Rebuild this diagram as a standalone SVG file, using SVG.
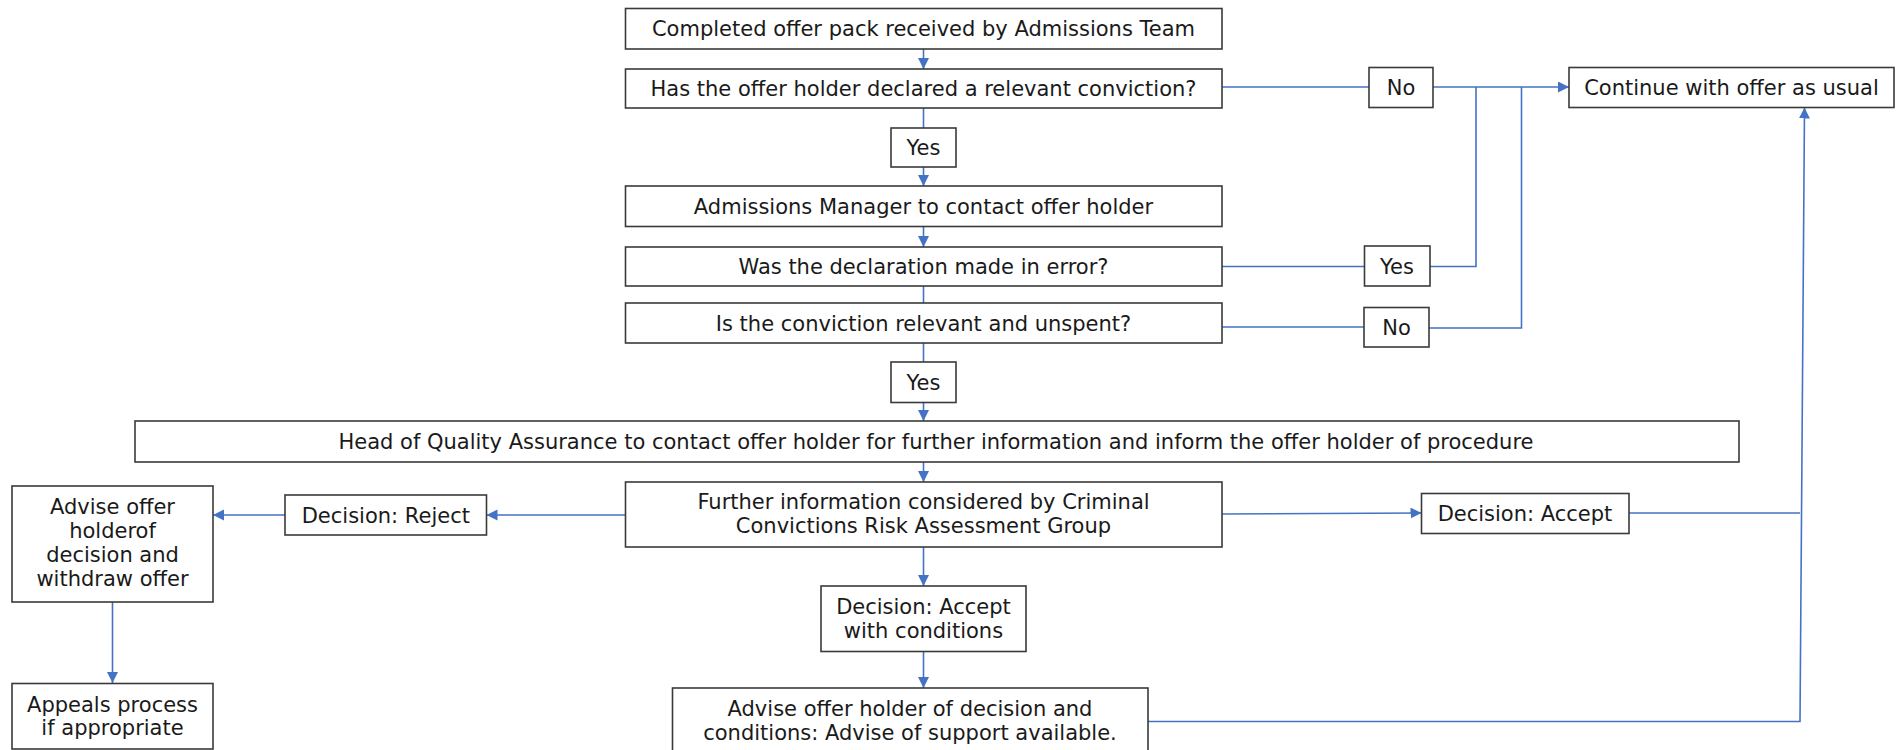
<svg xmlns="http://www.w3.org/2000/svg" width="1903" height="750" viewBox="0 0 1903 750">
<style>
.box{fill:#fff;stroke:#3a3a3a;stroke-width:1.6}
.t{font-family:"DejaVu Sans","Verdana",sans-serif;font-size:21px;fill:#1a1a1a;text-anchor:middle}
.c{fill:none;stroke:#4472C4;stroke-width:1.6}
.a{marker-end:url(#ah)}
</style>
<defs>
<marker id="ah" markerUnits="userSpaceOnUse" markerWidth="12" markerHeight="12" refX="11" refY="5.5" orient="auto">
<path d="M0,0 L11,5.5 L0,11 z" fill="#4472C4"/>
</marker>
</defs>
<rect width="1903" height="750" fill="#fff"/>
<g id="connectors">
<line class="c a" x1="923.5" y1="49" x2="923.5" y2="69"/>
<line class="c" x1="923.5" y1="108" x2="923.5" y2="128"/>
<line class="c a" x1="923.5" y1="167" x2="923.5" y2="186"/>
<line class="c a" x1="923.5" y1="227" x2="923.5" y2="247"/>
<line class="c" x1="923.5" y1="286" x2="923.5" y2="303"/>
<line class="c" x1="923.5" y1="343" x2="923.5" y2="362"/>
<line class="c a" x1="923.5" y1="403" x2="923.5" y2="421"/>
<line class="c a" x1="923.5" y1="462" x2="923.5" y2="482"/>
<line class="c a" x1="625" y1="515" x2="486.5" y2="515"/>
<line class="c a" x1="285" y1="515" x2="213" y2="515"/>
<line class="c a" x1="112.5" y1="602" x2="112.5" y2="683"/>
<line class="c a" x1="923.5" y1="547" x2="923.5" y2="586"/>
<line class="c a" x1="923.5" y1="652" x2="923.5" y2="688"/>
<line class="c a" x1="1222" y1="514" x2="1421.5" y2="513"/>
<line class="c" x1="1629" y1="513" x2="1800" y2="513"/>
<polyline class="c a" points="1148,721.5 1800,721.5 1804.5,107.5"/>
<line class="c" x1="1222" y1="87" x2="1369" y2="87"/>
<line class="c a" x1="1433" y1="87" x2="1569" y2="87"/>
<line class="c" x1="1222" y1="266.5" x2="1364.5" y2="266.5"/>
<polyline class="c" points="1430,266.5 1476,266.5 1476,87"/>
<line class="c" x1="1222" y1="327" x2="1364" y2="327"/>
<polyline class="c" points="1429,328 1521.5,328 1521.5,87"/>
</g>
<g id="n1"><rect class="box" x="625.5" y="8.5" width="596.5" height="40.5"/><text class="t" x="923.5" y="36">Completed offer pack received by Admissions Team</text></g>
<g id="n2"><rect class="box" x="625.5" y="69" width="596.5" height="39"/><text class="t" x="923.5" y="96">Has the offer holder declared a relevant conviction?</text></g>
<g id="n_yes1"><rect class="box" x="891" y="128" width="65" height="39"/><text class="t" x="923.5" y="155">Yes</text></g>
<g id="n3"><rect class="box" x="625.5" y="186" width="596.5" height="40.5"/><text class="t" x="923.5" y="214">Admissions Manager to contact offer holder</text></g>
<g id="n4"><rect class="box" x="625.5" y="247" width="596.5" height="39"/><text class="t" x="923.5" y="274">Was the declaration made in error?</text></g>
<g id="n5"><rect class="box" x="625.5" y="303" width="596.5" height="40"/><text class="t" x="923.5" y="330.5">Is the conviction relevant and unspent?</text></g>
<g id="n_yes2"><rect class="box" x="891" y="362" width="65" height="40.5"/><text class="t" x="923.5" y="390">Yes</text></g>
<g id="n6"><rect class="box" x="135" y="421" width="1604" height="41"/><text class="t" x="936" y="449">Head of Quality Assurance to contact offer holder for further information and inform the offer holder of procedure</text></g>
<g id="n7"><rect class="box" x="625.5" y="482" width="596.5" height="65"/><text class="t" x="923.5" y="509">Further information considered by Criminal</text><text class="t" x="923.5" y="533">Convictions Risk Assessment Group</text></g>
<g id="n_reject"><rect class="box" x="285" y="495" width="201.5" height="40"/><text class="t" x="385.8" y="522.5">Decision: Reject</text></g>
<g id="n_withdraw"><rect class="box" x="12" y="486" width="201" height="116"/><text class="t" x="112.5" y="514">Advise offer</text><text class="t" x="112.5" y="538">holderof</text><text class="t" x="112.5" y="562">decision and</text><text class="t" x="112.5" y="586">withdraw offer</text></g>
<g id="n_appeals"><rect class="box" x="12" y="683.5" width="201" height="65.5"/><text class="t" x="112.5" y="712">Appeals process</text><text class="t" x="112.5" y="735">if appropriate</text></g>
<g id="n_cond"><rect class="box" x="821" y="586" width="205" height="65.5"/><text class="t" x="923.5" y="614">Decision: Accept</text><text class="t" x="923.5" y="638">with conditions</text></g>
<g id="n_advise"><rect class="box" x="672.5" y="688" width="475.5" height="64"/><text class="t" x="910" y="715.5">Advise offer holder of decision and</text><text class="t" x="910" y="739.5">conditions: Advise of support available.</text></g>
<g id="n_accept"><rect class="box" x="1421.5" y="493.5" width="207.5" height="40"/><text class="t" x="1525" y="520.5">Decision: Accept</text></g>
<g id="n_no1"><rect class="box" x="1369" y="67.5" width="64" height="40"/><text class="t" x="1401" y="94.5">No</text></g>
<g id="n_continue"><rect class="box" x="1569" y="67.5" width="325" height="40"/><text class="t" x="1731.5" y="94.5">Continue with offer as usual</text></g>
<g id="n_yes3"><rect class="box" x="1364.5" y="246" width="65.5" height="40"/><text class="t" x="1397" y="273.5">Yes</text></g>
<g id="n_no2"><rect class="box" x="1364" y="307.5" width="65" height="39.5"/><text class="t" x="1396.5" y="334.5">No</text></g>
</svg>
